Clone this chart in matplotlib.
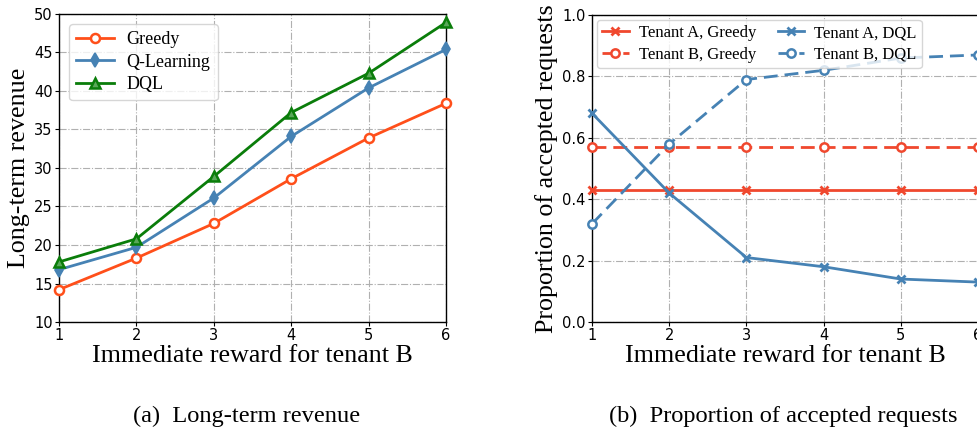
import matplotlib
matplotlib.use("Agg")
import matplotlib.pyplot as plt

# reward for tenant B (x axis, shared by both panels)
rewards = [1, 2, 3, 4, 5, 6]

# (a) long-term revenue
greedy_rev = [14.2, 18.3, 22.8, 28.6, 33.9, 38.4]
qlearn_rev = [16.8, 19.7, 26.1, 34.1, 40.4, 45.4]
dql_rev = [17.8, 20.8, 28.9, 37.2, 42.3, 48.9]

# (b) proportion of accepted requests
a_greedy = [0.43, 0.43, 0.43, 0.43, 0.43, 0.43]
b_greedy = [0.57, 0.57, 0.57, 0.57, 0.57, 0.57]
a_dql = [0.68, 0.42, 0.21, 0.18, 0.14, 0.13]
b_dql = [0.32, 0.58, 0.79, 0.82, 0.86, 0.87]

SERIF = ["Liberation Serif", "DejaVu Serif"]
ORANGE = "#ff4f1a"
RED = "#f0482e"
BLUE = "#4682b4"
GREEN = "#0a7d0a"

fig = plt.figure(figsize=(9.77, 4.29), dpi=100)
ax1 = fig.add_axes([0.0604, 0.2494, 0.3961, 0.7180])
ax2 = fig.add_axes([0.6060, 0.2494, 0.3950, 0.7155])

lw = 2.0
ax1.plot(rewards, greedy_rev, color=ORANGE, lw=lw, marker="o", ms=6.5,
         mfc="white", mew=1.8, label="Greedy", clip_on=False, zorder=3)
ax1.plot(rewards, qlearn_rev, color=BLUE, lw=lw, marker="d", ms=7.5,
         mfc=BLUE, mec=BLUE, mew=1.2, label="Q-Learning", clip_on=False, zorder=3)
ax1.plot(rewards, dql_rev, color=GREEN, lw=lw, marker="^", ms=7.5,
         mfc="#5aa85a", mec=GREEN, mew=1.8, label="DQL", clip_on=False, zorder=3)
ax1.set_xlim(1, 6)
ax1.set_ylim(10, 50)
ax1.set_yticks(range(10, 51, 5))
ax1.set_ylabel("Long-term revenue", family=SERIF, fontsize=18.7, labelpad=3)
ax1.legend(loc="upper left", prop={"family": SERIF, "size": 13},
           borderaxespad=0.55, handlelength=2.1, handletextpad=0.7,
           labelspacing=0.3, fancybox=True)

ax2.plot(rewards, a_greedy, color=RED, lw=lw, ls="-", marker="x", ms=5.5,
         mew=2, label="Tenant A, Greedy", clip_on=False, zorder=3)
ax2.plot(rewards, b_greedy, color=RED, lw=lw, ls=(0, (5, 2.5)), marker="o", ms=6,
         mfc="white", mew=1.8, label="Tenant B, Greedy", clip_on=False, zorder=3)
ax2.plot(rewards, a_dql, color=BLUE, lw=lw, ls="-", marker="x", ms=5.5,
         mew=2, label="Tenant A, DQL", clip_on=False, zorder=3)
ax2.plot(rewards, b_dql, color=BLUE, lw=lw, ls=(0, (5, 2.5)), marker="o", ms=6,
         mfc="white", mew=1.8, label="Tenant B, DQL", clip_on=False, zorder=3)
ax2.set_xlim(1, 6)
ax2.set_ylim(0, 1.0)
ax2.set_yticks([0.0, 0.2, 0.4, 0.6, 0.8, 1.0])
ax2.set_ylabel("Proportion of accepted requests", family=SERIF, fontsize=18.7, labelpad=3)
ax2.legend(loc="upper left", ncol=2, prop={"family": SERIF, "size": 12},
           borderaxespad=0.3, borderpad=0.3, handlelength=1.6, handletextpad=0.6,
           labelspacing=0.35, columnspacing=1.3, fancybox=True)

for ax in (ax1, ax2):
    ax.set_xticks(rewards)
    ax.set_xlabel("Immediate reward for tenant B", family=SERIF, fontsize=18.7, labelpad=1)
    ax.grid(True, ls="-.", color="#b0b0b0", lw=0.8)
    ax.tick_params(labelsize=10.5, length=3, pad=1.5)
    for s in ax.spines.values():
        s.set_linewidth(1.0)

fig.text(0.252, 0.016, "(a)  Long-term revenue", family=SERIF, fontsize=17.6, ha="center")
fig.text(0.802, 0.016, "(b)  Proportion of accepted requests", family=SERIF, fontsize=17.6, ha="center")

fig.savefig("out.png", dpi=100)
